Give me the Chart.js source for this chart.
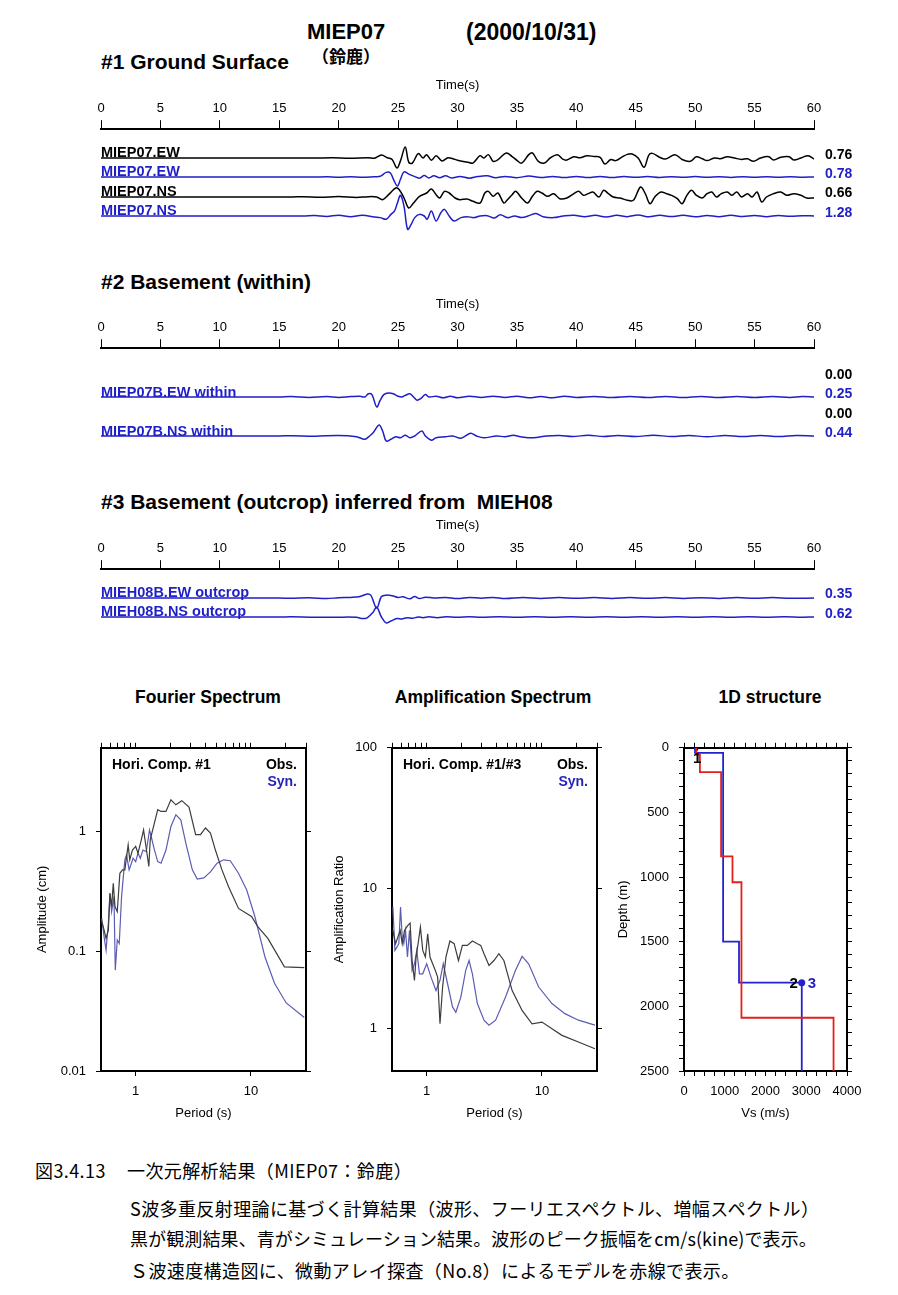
<!DOCTYPE html>
<html>
<head>
<meta charset="utf-8">
<script src="https://cdn.jsdelivr.net/npm/chart.js@4.4.0/dist/chart.umd.min.js"></script>
<style>
  body { margin: 0; background: #fff; }
  #page { position: relative; width: 898px; height: 1295px; overflow: hidden; font-family: "Liberation Sans", Arial, sans-serif; color: #000; }
  .t { position: absolute; white-space: pre; line-height: 1; }
  .cap { font-family: "Noto Sans CJK JP", sans-serif; letter-spacing: 0.4px; }
  canvas { position: absolute; }
</style>
</head>
<body>
<div id="page"></div>
<script>
// ---- waveforms, [time (s), velocity (cm/s)] ----
const obsEW = [[0,0],[18,0],[19.5,0.01],[21,-0.02],[22.5,0.02],[23.0,-0.02],[23.6,0.2],[24.1,0.02],[24.5,-0.1],[24.9,-0.69],[25.2,-0.2],[25.6,0.76],[25.9,-0.3],[26.2,-0.35],[26.7,0.3],[27.1,0],[27.4,0.23],[27.8,-0.15],[28.2,0.15],[28.7,-0.2],[29.2,0.02],[29.6,-0.05],[30.0,-0.15],[30.9,-0.3],[31.3,-0.35],[31.9,0.16],[32.2,0],[32.6,0.23],[33.0,-0.23],[33.4,-0.12],[34.1,0.35],[34.6,0.1],[35.0,-0.16],[35.4,-0.35],[36.0,0.23],[36.3,0.35],[36.8,-0.23],[37.3,-0.35],[37.8,0],[38.4,0.23],[38.9,-0.1],[39.2,-0.14],[39.8,0.09],[40.3,0.02],[40.9,0.16],[41.5,0.1],[42.0,0.05],[42.4,-0.41],[42.9,-0.1],[43.3,-0.18],[43.9,0.1],[44.3,0.25],[44.7,0.28],[45.2,0],[45.7,-0.64],[46.1,0.2],[46.4,0.32],[47.0,0.05],[47.5,-0.07],[48.3,0.23],[48.9,-0.1],[49.6,-0.23],[50.1,0.09],[50.6,-0.05],[51.0,-0.18],[51.6,0],[52.1,-0.05],[52.7,0.09],[53.3,0],[53.9,-0.1],[54.4,-0.05],[54.9,-0.23],[55.5,0],[56.2,0.09],[56.6,-0.14],[57.2,0.05],[57.9,0.09],[58.3,-0.14],[58.9,0],[59.5,0.16],[60,-0.07]];
const synEW = [[0,0],[18,0],[19,0.02],[20,-0.02],[21,0.02],[22,-0.03],[23,0.03],[23.5,0.06],[24.0,0.4],[24.35,0.35],[24.65,-0.3],[24.95,-0.78],[25.2,-0.2],[25.5,0.45],[25.9,0.25],[26.3,0.08],[26.8,-0.1],[27.2,0.12],[27.6,-0.08],[28.0,0.1],[28.5,-0.06],[29.0,0.1],[29.5,-0.08],[30.2,0.05],[31.0,-0.1],[31.7,0.04],[32.5,0.1],[33.2,-0.06],[34.0,0.05],[35.0,-0.06],[36.0,0.08],[37.0,-0.05],[38.0,0.05],[39.0,-0.04],[40.0,0.05],[41.0,-0.04],[42.0,0.05],[43.0,-0.05],[44.0,0.04],[45.0,-0.03],[46.0,0.05],[47.0,-0.04],[48.0,0.03],[49.0,-0.03],[50.0,0.04],[51.0,-0.03],[52.0,0.03],[53.0,-0.04],[54.0,0.03],[55.0,-0.03],[56.0,0.03],[57.0,-0.02],[58.0,0.03],[59.0,-0.02],[60,0]];
const obsNS = [[0,0],[16,0],[17,0.02],[18.5,-0.02],[20,0.03],[21.5,-0.03],[22.5,0.02],[23.2,0],[23.7,-0.16],[24.2,0.14],[24.8,0.54],[25.1,0.44],[25.5,-0.06],[25.9,-0.66],[26.3,-0.36],[26.8,0.04],[27.4,0.24],[27.8,0.48],[28.2,0.14],[28.5,-0.06],[28.9,0.34],[29.3,0.24],[29.8,-0.06],[30.2,-0.16],[30.8,-0.12],[31.3,-0.26],[31.9,-0.36],[32.3,0.24],[32.6,0.34],[33.0,0.04],[33.4,0.24],[33.9,-0.36],[34.2,-0.16],[34.6,0.14],[34.9,0.34],[35.4,-0.06],[35.9,-0.36],[36.3,0.04],[36.7,0.34],[37.1,0.24],[37.6,0.04],[38.1,0.2],[38.6,-0.1],[39.2,-0.06],[39.8,0.2],[40.2,0.34],[40.6,0.1],[41.0,0.2],[41.4,0.3],[41.9,0],[42.3,0.4],[42.7,0.2],[43.1,0],[43.7,-0.06],[44.3,-0.2],[44.8,-0.2],[45.4,0.6],[45.8,0.2],[46.2,-0.4],[46.6,0],[47.1,0.3],[47.6,0.2],[48.0,0.1],[48.5,-0.1],[48.9,-0.4],[49.3,0.1],[49.7,0.4],[50.1,0.1],[50.6,-0.06],[51.0,0.2],[51.4,0.3],[51.8,0],[52.2,0.2],[52.7,0.3],[53.1,0.1],[53.5,0.3],[53.9,0],[54.4,0.2],[54.8,0],[55.2,0.3],[55.6,-0.3],[56.0,0],[56.6,0.2],[57.2,0.3],[57.7,0.1],[58.3,0.2],[58.9,0.1],[59.4,-0.06],[60,-0.06]];
const synNS = [[0,0],[17,0],[18,0.03],[19,-0.03],[20,0.05],[21,-0.04],[22,0.05],[23,-0.06],[23.5,-0.1],[24.0,-0.2],[24.4,0.1],[24.7,0.31],[24.95,0.82],[25.2,1.28],[25.5,0.6],[25.8,-0.82],[26.1,-0.52],[26.4,-0.1],[26.8,0.1],[27.2,0],[27.45,-0.2],[27.8,0.31],[28.2,-0.31],[28.6,0.2],[28.9,0.41],[29.3,0],[29.7,-0.31],[30.3,-0.1],[30.8,-0.04],[31.4,-0.1],[31.9,0],[32.5,0.02],[33.1,-0.12],[33.6,0.08],[34.2,-0.1],[34.8,0],[35.4,-0.1],[36.1,0.04],[36.6,0.16],[37.2,-0.04],[38.1,-0.1],[38.9,0],[39.8,0.05],[40.7,-0.05],[41.6,0.04],[42.5,-0.06],[43.4,0.04],[44.3,-0.04],[45.2,0.06],[46.1,-0.05],[47.0,0.04],[48.0,-0.03],[49.0,0.04],[50.0,-0.05],[51.0,0.03],[52.0,-0.04],[53.0,0.04],[54.0,-0.03],[55.0,0.03],[56.0,-0.04],[57.0,0.03],[58.0,-0.02],[59.0,0.02],[60,0]];
const withinEW = [[0,0],[15,0],[16,0.01],[17.5,-0.01],[19,0.01],[20,-0.01],[21,0.01],[21.8,0.02],[22.2,0],[22.5,0.08],[22.8,0.06],[23.2,-0.25],[23.5,-0.08],[23.8,0.06],[24.2,0.1],[24.6,0.08],[25.0,0.02],[25.3,0],[25.6,0.04],[26.0,0.08],[26.3,0],[26.6,-0.08],[26.9,-0.04],[27.3,0.06],[27.6,0],[28.2,0.02],[28.8,-0.02],[29.4,0.02],[30,-0.02],[31,0.02],[32,-0.01],[33,0.02],[34,-0.01],[35,0.02],[36,-0.02],[37,0.01],[38,-0.02],[39,0.02],[40,-0.01],[41.5,0.015],[43,-0.015],[44.5,0.01],[46,-0.015],[47.5,0.015],[49,-0.01],[50.5,0.015],[52,-0.015],[53.5,0.01],[55,-0.015],[56.5,0.01],[58,-0.01],[59,0.015],[60,0]];
const withinNS = [[0,0],[15,0],[16,0.01],[18,-0.01],[20,0.02],[21.5,-0.03],[22.2,-0.13],[22.6,0],[22.9,0.13],[23.4,0.44],[23.7,0.2],[24.0,-0.2],[24.4,-0.13],[24.8,-0.03],[25.2,-0.07],[25.6,0.03],[26.0,-0.07],[26.4,0],[27.0,0.2],[27.3,0],[27.8,-0.17],[28.2,-0.07],[29.0,-0.03],[29.6,0],[30.3,-0.09],[31.1,0.11],[31.6,0],[32.2,-0.07],[33.3,0],[34.0,-0.03],[34.7,0.03],[35.3,-0.03],[36.4,-0.07],[37.5,0],[38.6,0.02],[39.7,-0.02],[41,0.03],[42.3,-0.02],[43.5,0.02],[45,-0.02],[46.5,0.03],[48,-0.02],[49.5,0.02],[51,-0.03],[52.5,0.02],[54,-0.02],[55.5,0.02],[57,-0.02],[58.5,0.02],[60,0]];
const outcropEW = [[0,0],[15,0],[16,-0.01],[17.5,0.01],[19,-0.02],[20,0.01],[21,0.02],[21.8,0.05],[22.4,0.14],[22.7,0.1],[23.2,-0.35],[23.6,0.05],[24.0,0.1],[24.5,0.08],[25.0,0.02],[25.4,0.04],[26.0,-0.03],[26.4,0.05],[26.8,-0.02],[27.3,0.03],[28,0],[29,0.02],[30,-0.02],[31,0.02],[32,-0.01],[33,0.02],[34,-0.02],[35.5,0.015],[37,-0.015],[38.5,0.015],[40,-0.01],[41.5,0.015],[43,-0.015],[44.5,0.015],[46,-0.01],[47.5,0.015],[49,-0.015],[50.5,0.01],[52,-0.015],[53.5,0.015],[55,-0.01],[56.5,0.015],[58,-0.01],[60,0]];
const outcropNS = [[0,0],[15,0],[16,0.01],[18,-0.02],[20,-0.01],[21.5,-0.02],[22.0,-0.1],[22.4,-0.05],[22.9,0.3],[23.2,0.62],[23.6,0],[24.0,-0.37],[24.4,-0.25],[24.9,-0.1],[25.3,-0.12],[25.8,-0.04],[26.2,-0.08],[26.7,0],[27.1,-0.04],[27.6,0.02],[28.3,-0.04],[29,0.02],[30,-0.02],[31,0.02],[32,-0.02],[33.5,0.02],[35,-0.02],[36.5,0.015],[38,-0.015],[39.5,0.02],[41,-0.015],[42.5,0.015],[44,-0.015],[45.5,0.015],[47,-0.015],[48.5,0.015],[50,-0.015],[51.5,0.015],[53,-0.015],[54.5,0.015],[56,-0.015],[57.5,0.015],[59,-0.01],[60,0]];

// ---- spectra, [period (s), value] ----
const fourierObs = [[0.508,0.177],[0.532,0.15],[0.553,0.128],[0.579,0.15],[0.598,0.305],[0.618,0.236],[0.639,0.37],[0.661,0.236],[0.692,0.214],[0.729,0.448],[0.769,0.478],[0.805,0.478],[0.86,0.77],[0.888,0.58],[0.936,0.7],[1.0,0.75],[1.047,0.66],[1.118,0.85],[1.17,1.03],[1.234,0.725],[1.3,0.51],[1.336,0.85],[1.427,1.1],[1.553,1.52],[1.66,1.47],[1.83,1.47],[2.02,1.84],[2.23,1.67],[2.51,1.81],[2.9,1.6],[3.31,0.94],[3.65,0.94],[4.03,1.07],[4.45,0.97],[4.91,0.7],[5.6,0.478],[6.39,0.346],[7.79,0.228],[10.1,0.195],[11.5,0.16],[14.0,0.128],[19.5,0.074],[29,0.073]];
const fourierSyn = [[0.508,0.188],[0.532,0.132],[0.553,0.102],[0.579,0.171],[0.598,0.305],[0.618,0.214],[0.648,0.286],[0.665,0.0696],[0.692,0.124],[0.72,0.116],[0.754,0.286],[0.805,0.58],[0.832,0.638],[0.877,0.478],[0.949,0.598],[1.0,0.56],[1.047,0.66],[1.096,0.598],[1.156,0.7],[1.234,0.68],[1.318,1.03],[1.362,0.908],[1.455,0.7],[1.553,0.56],[1.66,0.543],[1.83,0.7],[2.02,1.1],[2.23,1.38],[2.46,1.25],[2.72,0.8],[3.1,0.478],[3.42,0.4],[3.9,0.41],[4.45,0.46],[5.08,0.543],[5.79,0.58],[6.61,0.57],[7.79,0.448],[9.18,0.325],[10.8,0.195],[13.2,0.09],[16.0,0.054],[20.2,0.037],[29,0.028]];
const ampObs = [[0.509,5.01],[0.537,4.03],[0.562,4.49],[0.589,5.01],[0.613,4.03],[0.642,5.01],[0.686,5.44],[0.718,5.65],[0.747,3.06],[0.783,2.21],[0.809,3.24],[0.842,4.03],[0.882,5.29],[0.924,3.61],[0.974,3.24],[1.02,4.74],[1.068,3.24],[1.126,2.9],[1.188,2.6],[1.244,2.33],[1.304,1.085],[1.374,1.98],[1.468,3.24],[1.589,4.21],[1.73,4.03],[1.886,3.06],[2.04,3.92],[2.25,3.92],[2.49,4.21],[2.75,4.03],[2.94,3.92],[3.14,3.42],[3.47,2.82],[3.83,3.06],[4.23,3.42],[4.67,3.06],[5.51,1.87],[6.72,1.35],[8.2,1.085],[10.0,1.115],[12.2,1.0],[14.9,0.897],[20.7,0.804],[28.8,0.72]];
const ampSyn = [[0.509,7.34],[0.53,3.61],[0.551,3.81],[0.573,4.03],[0.593,7.34],[0.613,4.49],[0.633,4.03],[0.655,5.01],[0.681,3.24],[0.709,5.01],[0.747,2.6],[0.783,2.9],[0.82,3.61],[0.865,2.46],[0.924,2.46],[1.0,2.9],[1.09,2.33],[1.203,1.87],[1.304,2.21],[1.392,2.9],[1.517,2.09],[1.675,1.43],[1.79,1.31],[1.977,1.68],[2.18,2.6],[2.33,3.06],[2.49,2.46],[2.75,1.51],[3.14,1.15],[3.47,1.06],[3.96,1.15],[4.83,1.68],[5.88,2.6],[6.72,3.27],[7.66,2.9],[9.36,1.98],[12.2,1.51],[15.8,1.28],[20.7,1.15],[28.8,1.06]];

// ---- 1D structure: layer top depth (m) and Vs (m/s) ----
const synLayerTop = [0, 40, 1500, 1817];
const synVs = [270, 960, 1350, 2890];
const arrayLayerTop = [0, 52, 188, 840, 1040, 2088];
const arrayVs = [300, 390, 910, 1190, 1410, 3670];
const maxDepth = 2500;

// ---- tick labels ----
const timeTicks = [0, 5, 10, 15, 20, 25, 30, 35, 40, 45, 50, 55, 60];
const periodMinor = [0.5, 0.6, 0.7, 0.8, 0.9, 1, 2, 3, 4, 5, 6, 7, 8, 9, 10, 20, 30];
const periodLabels = [1, 10];
const fourierTicks = [0.01, 0.1, 1];
const ampTicks = [1, 10, 100];

Chart.defaults.font.family = "'Liberation Sans', Arial, sans-serif";
Chart.defaults.color = '#000';

const page = document.getElementById('page');
const BLUE = '#1f1fc8';

function txt(s, x, cy, size, o) {
  o = o || {};
  const d = document.createElement('div');
  d.className = 't' + (o.cap ? ' cap' : '');
  d.textContent = s;
  d.style.fontSize = size + 'px';
  d.style.left = x + 'px';
  d.style.top = (cy - size * 0.49) + 'px';
  if (o.bold !== false && !o.cap) d.style.fontWeight = 'bold';
  if (o.cjkBold) { d.style.fontWeight = 'bold'; d.style.fontFamily = '"Noto Sans CJK JP"'; }
  if (o.color) d.style.color = o.color;
  if (o.spacing != null) d.style.letterSpacing = o.spacing + 'px';
  if (o.align === 'right') d.style.transform = 'translateX(-100%)';
  if (o.align === 'center') d.style.transform = 'translateX(-50%)';
  page.appendChild(d);
}

function canvasAt(x, y, w, h) {
  const c = document.createElement('canvas');
  c.width = w; c.height = h;
  c.style.left = x + 'px'; c.style.top = y + 'px';
  c.style.width = w + 'px'; c.style.height = h + 'px';
  page.appendChild(c);
  return c;
}

const baseOpts = { responsive: false, animation: false, events: [],
  plugins: { legend: { display: false }, tooltip: { enabled: false } } };

// time axis above each block of traces (canvas tall enough so the axis box is not squeezed)
function timeAxis(top) {
  new Chart(canvasAt(81, top, 753, 110), {
    type: 'line',
    data: { datasets: [] },
    options: { ...baseOpts, layout: { padding: { left: 20, right: 20, top: 0, bottom: 0 } },
      scales: {
        x: { type: 'linear', position: 'top', min: 0, max: 60,
          afterBuildTicks: s => { s.ticks = timeTicks.map(v => ({ value: v })); },
          ticks: { font: { size: 13 }, padding: 4, maxRotation: 0, autoSkip: false },
          grid: { drawOnChartArea: false, tickLength: 9, color: '#000' },
          border: { color: '#000', width: 2 },
          title: { display: true, text: 'Time(s)', font: { size: 13 }, padding: { top: 0, bottom: 3 } } },
        y: { display: false }
      } }
  });
}

// one trace per canvas; pxPerUnit sets the drawn amplitude
function trace(pts, color, baseline, pxPerUnit) {
  const h = 64, r = (h / 2) / pxPerUnit;
  new Chart(canvasAt(101, baseline - h / 2, 713, h), {
    type: 'line',
    data: { datasets: [{ data: pts.map(p => ({ x: p[0], y: p[1] })), borderColor: color,
      borderWidth: 1.5, pointRadius: 0, tension: 0.35, clip: false }] },
    options: { ...baseOpts, layout: { padding: 0 },
      scales: { x: { type: 'linear', min: 0, max: 60, display: false },
                y: { min: -r, max: r, display: false } } }
  });
}

// headings
txt('MIEP07', 307, 32, 22);
txt('(2000/10/31)', 466, 32, 23);
txt('（鈴鹿）', 312, 55, 17, { cjkBold: true });
txt('#1 Ground Surface', 101, 61, 21);
txt('#2 Basement (within)', 101, 281, 21);
txt('#3 Basement (outcrop) inferred from  MIEH08', 101, 501, 21);

// block 1
timeAxis(78);
trace(obsEW, '#000', 158, 14.5);
trace(synEW, BLUE, 177, 11.5);
trace(obsNS, '#000', 197, 16.7);
trace(synNS, BLUE, 216, 16.2);
txt('MIEP07.EW', 101, 152, 14.5);
txt('MIEP07.EW', 101, 171, 14.5, { color: BLUE });
txt('MIEP07.NS', 101, 191, 14.5);
txt('MIEP07.NS', 101, 210, 14.5, { color: BLUE });
txt('0.76', 825, 154, 14);
txt('0.78', 825, 173, 14, { color: BLUE });
txt('0.66', 825, 192, 14);
txt('1.28', 825, 212, 14, { color: BLUE });

// block 2
timeAxis(297);
trace(withinEW, BLUE, 397, 40);
trace(withinNS, BLUE, 436, 25);
txt('MIEP07B.EW within', 101, 392, 14.5, { color: BLUE });
txt('MIEP07B.NS within', 101, 431, 14.5, { color: BLUE });
txt('0.00', 825, 374, 14);
txt('0.25', 825, 393, 14, { color: BLUE });
txt('0.00', 825, 413, 14);
txt('0.44', 825, 432, 14, { color: BLUE });

// block 3
timeAxis(518);
trace(outcropEW, BLUE, 598, 28.6);
trace(outcropNS, BLUE, 617, 16);
txt('MIEH08B.EW outcrop', 101, 592, 14.5, { color: BLUE });
txt('MIEH08B.NS outcrop', 101, 611, 14.5, { color: BLUE });
txt('0.35', 825, 593, 14, { color: BLUE });
txt('0.62', 825, 613, 14, { color: BLUE });

// spectra panels
function fixSize(w, h) {
  return s => { if (w != null) s.width = w; if (h != null) s.height = h; };
}
function tickSet(list) { return s => { s.ticks = list.map(v => ({ value: v })); }; }

function spectrum(x, yMin, yMax, yTicks, yTitle, titlePad, obs, syn) {
  const sideLine = { color: '#000', width: 2 };
  new Chart(canvasAt(x, 730, 290, 400), {
    type: 'line',
    data: { datasets: [
      { data: obs.map(p => ({ x: p[0], y: p[1] })), borderColor: '#3c3c3c', borderWidth: 1.2, pointRadius: 0, tension: 0 },
      { data: syn.map(p => ({ x: p[0], y: p[1] })), borderColor: '#5c5cb4', borderWidth: 1.2, pointRadius: 0, tension: 0 }
    ] },
    options: { ...baseOpts, layout: { padding: 0 },
      scales: {
        x: { type: 'logarithmic', position: 'bottom', min: 0.5, max: 30, afterFit: fixSize(null, 59),
          afterBuildTicks: tickSet(periodLabels),
          ticks: { font: { size: 13 }, padding: 8, maxRotation: 0, autoSkip: false, callback: v => String(v) },
          grid: { drawOnChartArea: false, tickLength: 5, color: '#000' }, border: sideLine,
          title: { display: true, text: 'Period (s)', font: { size: 13 }, padding: { top: 0, bottom: 9 } } },
        x2: { type: 'logarithmic', position: 'top', min: 0.5, max: 30, afterFit: fixSize(null, 16),
          afterBuildTicks: tickSet(periodMinor), ticks: { display: false },
          grid: { drawOnChartArea: false, tickLength: 5, color: '#000' }, border: sideLine },
        y: { type: 'logarithmic', position: 'left', min: yMin, max: yMax, afterFit: fixSize(x === 30 ? 71 : 72, null),
          afterBuildTicks: tickSet(yTicks),
          ticks: { font: { size: 13 }, padding: 10, autoSkip: false, callback: v => String(v) },
          grid: { drawOnChartArea: false, tickLength: 5, color: '#000' }, border: sideLine,
          title: { display: true, text: yTitle, font: { size: 13 }, padding: { top: titlePad, bottom: 0 } } },
        y2: { type: 'logarithmic', position: 'right', min: yMin, max: yMax, afterFit: fixSize(x === 30 ? 14 : 13, null),
          afterBuildTicks: tickSet(yTicks), ticks: { display: false },
          grid: { drawOnChartArea: false, tickLength: 5, color: '#000' }, border: sideLine }
      } }
  });
}

spectrum(30, 0.01, 5, fourierTicks, 'Amplitude (cm)', 5, fourierObs, fourierSyn);
spectrum(320, 0.5, 100, ampTicks, 'Amplification Ratio', 12, ampObs, ampSyn);

txt('Fourier Spectrum', 208, 698, 17.5, { align: 'center' });
txt('Amplification Spectrum', 493, 698, 17.5, { align: 'center' });
txt('1D structure', 770, 698, 17.5, { align: 'center' });
txt('Hori. Comp. #1', 112, 764, 14);
txt('Obs.', 297, 764, 14, { align: 'right' });
txt('Syn.', 297, 781, 14, { align: 'right', color: '#2424b8' });
txt('Hori. Comp. #1/#3', 403, 764, 14);
txt('Obs.', 588, 764, 14, { align: 'right' });
txt('Syn.', 588, 781, 14, { align: 'right', color: '#2424b8' });

// 1D velocity structure
function steps(tops, vs) {
  const pts = [];
  vs.forEach((v, i) => {
    pts.push({ x: v, y: tops[i] });
    pts.push({ x: v, y: i + 1 < tops.length ? tops[i + 1] : maxDepth });
  });
  return pts;
}
const every = (step, max) => Array.from({ length: max / step + 1 }, (_, i) => i * step);
const labelsPlugin = {
  id: 'layerLabels',
  afterDatasetsDraw(chart) {
    const { ctx, scales: { x, y } } = chart;
    const bx = x.getPixelForValue(synVs[3]), by = y.getPixelForValue(synLayerTop[3]);
    ctx.save();
    ctx.font = "bold 15px 'Liberation Sans', Arial, sans-serif";
    ctx.textBaseline = 'middle';
    ctx.fillStyle = '#000'; ctx.textAlign = 'right';
    ctx.fillText('2', bx - 4, by + 1);
    ctx.fillStyle = BLUE; ctx.textAlign = 'left';
    ctx.fillText('3', bx + 6, by + 1);
    ctx.fillStyle = '#000'; ctx.textAlign = 'center';
    ctx.fillText('1', x.getPixelForValue(arrayVs[0]) + 1, y.getPixelForValue(85));
    ctx.restore();
  }
};
const sideLine = { color: '#000', width: 2 };
new Chart(canvasAt(600, 730, 270, 400), {
  type: 'line',
  data: { datasets: [
    { data: steps(arrayLayerTop, arrayVs), borderColor: '#e2201c', borderWidth: 1.8, pointRadius: 0, tension: 0 },
    { data: steps(synLayerTop, synVs), borderColor: '#2222d0', borderWidth: 1.8, pointRadius: 0, tension: 0 },
    { data: [{ x: synVs[3], y: synLayerTop[3] }], showLine: false, pointRadius: 3.5, pointBackgroundColor: '#2222d0', pointBorderWidth: 0 },
    { data: [{ x: arrayVs[0], y: 12 }], showLine: false, pointStyle: 'triangle', rotation: 180, pointRadius: 3.5, pointBackgroundColor: '#000', pointBorderWidth: 0 }
  ] },
  options: { ...baseOpts, layout: { padding: 0 },
    scales: {
      x: { type: 'linear', position: 'bottom', min: 0, max: 4000, afterFit: fixSize(null, 59),
        afterBuildTicks: tickSet(every(250, 4000)),
        ticks: { font: { size: 13 }, padding: 8, maxRotation: 0, autoSkip: false, callback: v => v % 1000 === 0 ? String(v) : '' },
        grid: { drawOnChartArea: false, tickLength: 5, color: '#000' }, border: sideLine,
        title: { display: true, text: 'Vs (m/s)', font: { size: 13 }, padding: { top: 0, bottom: 9 } } },
      x2: { type: 'linear', position: 'top', min: 0, max: 4000, afterFit: fixSize(null, 17),
        afterBuildTicks: tickSet(every(250, 4000)), ticks: { display: false },
        grid: { drawOnChartArea: false, tickLength: 5, color: '#000' }, border: sideLine },
      y: { type: 'linear', position: 'left', reverse: true, min: 0, max: maxDepth, afterFit: fixSize(84, null),
        afterBuildTicks: tickSet(every(100, maxDepth)),
        ticks: { font: { size: 13 }, padding: 10, autoSkip: false, callback: v => v % 500 === 0 ? String(v) : '' },
        grid: { drawOnChartArea: false, tickLength: 5, color: '#000' }, border: sideLine,
        title: { display: true, text: 'Depth (m)', font: { size: 13 }, padding: { top: 16, bottom: 0 } } },
      y2: { type: 'linear', position: 'right', reverse: true, min: 0, max: maxDepth, afterFit: fixSize(23, null),
        afterBuildTicks: tickSet(every(100, maxDepth)), ticks: { display: false },
        grid: { drawOnChartArea: false, tickLength: 5, color: '#000' }, border: sideLine }
    } },
  plugins: [labelsPlugin]
});

// caption
txt('図3.4.13', 35, 1170, 18, { cap: true });
txt('一次元解析結果（MIEP07：鈴鹿）', 127, 1170, 18, { cap: true });
txt('S波多重反射理論に基づく計算結果（波形、フーリエスペクトル、増幅スペクトル）', 130, 1208, 18, { cap: true });
txt('黒が観測結果、青がシミュレーション結果。波形のピーク振幅をcm/s(kine)で表示。', 130, 1238, 18, { cap: true, spacing: 0.1 });
txt('Ｓ波速度構造図に、微動アレイ探査（No.8）によるモデルを赤線で表示。', 130, 1270, 18, { cap: true });
</script>
</body>
</html>
